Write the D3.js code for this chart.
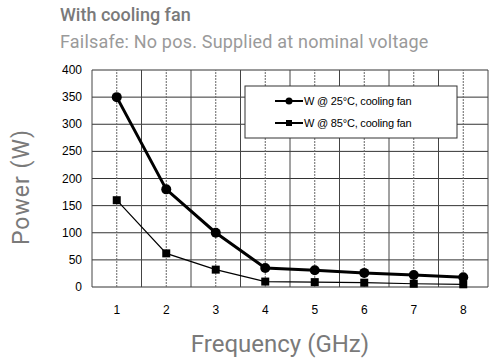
<!DOCTYPE html>
<html>
<head>
<meta charset="utf-8">
<script src="https://cdn.jsdelivr.net/npm/d3@7"></script>
<style>
  body { margin: 0; background: #fff; }
  svg { display: block; }
</style>
</head>
<body>
<div id="chart"></div>
<script>
const freq = [1, 2, 3, 4, 5, 6, 7, 8];
const power25 = [350, 180, 100, 35, 31, 26, 22, 18];
const power85 = [160, 62, 32, 10, 9, 8, 6, 5];
const yTicks = [0, 50, 100, 150, 200, 250, 300, 350, 400];
const legendLabels = ["W @ 25°C, cooling fan", "W @ 85°C, cooling fan"];

const width = 493, height = 358;
const margin = { top: 70, right: 5, bottom: 71, left: 92 };

const svg = d3.select("#chart").append("svg")
  .attr("width", width)
  .attr("height", height);

// titles
svg.append("text")
  .attr("x", 60).attr("y", 21)
  .attr("font-family", "Roboto, 'Open Sans', sans-serif")
  .attr("font-size", 18).attr("font-weight", 500)
  .attr("fill", "#7a7a7a")
  .text("With cooling fan");

svg.append("text")
  .attr("x", 60).attr("y", 48)
  .attr("font-family", "Roboto, 'Open Sans', sans-serif")
  .attr("font-size", 18)
  .attr("letter-spacing", 0.2)
  .attr("fill", "#9a9a9a")
  .text("Failsafe: No pos. Supplied at nominal voltage");

const x = d3.scaleLinear().domain([0.5, 8.5]).range([margin.left, width - margin.right]);
const y = d3.scaleLinear().domain([0, 400]).range([height - margin.bottom, margin.top]);

const plot = svg.append("g");

// horizontal grid
plot.append("g")
  .selectAll("line")
  .data(yTicks)
  .join("line")
  .attr("x1", x(0.5)).attr("x2", x(8.5))
  .attr("y1", d => y(d)).attr("y2", d => y(d))
  .attr("stroke", "#333").attr("stroke-width", 1);

// vertical grid: solid between categories, dotted at categories
plot.append("g")
  .selectAll("line")
  .data(d3.range(0.5, 9, 1))
  .join("line")
  .attr("x1", d => x(d)).attr("x2", d => x(d))
  .attr("y1", y(0)).attr("y2", y(400))
  .attr("stroke", "#444").attr("stroke-width", 1);

plot.append("g")
  .selectAll("line")
  .data(freq)
  .join("line")
  .attr("x1", d => x(d)).attr("x2", d => x(d))
  .attr("y1", y(0)).attr("y2", y(400))
  .attr("stroke", "#666").attr("stroke-width", 1)
  .attr("stroke-dasharray", "2,1");

// axis tick labels
plot.append("g")
  .selectAll("text")
  .data(yTicks)
  .join("text")
  .attr("x", margin.left - 10)
  .attr("y", d => y(d) + 4)
  .attr("text-anchor", "end")
  .attr("font-family", "Arial, 'Liberation Sans', sans-serif")
  .attr("font-size", 12)
  .attr("fill", "#000")
  .text(d => d);

plot.append("g")
  .selectAll("text")
  .data(freq)
  .join("text")
  .attr("x", d => x(d))
  .attr("y", height - margin.bottom + 27)
  .attr("text-anchor", "middle")
  .attr("font-family", "Arial, 'Liberation Sans', sans-serif")
  .attr("font-size", 12)
  .attr("fill", "#000")
  .text(d => d);

// lines
const line = d3.line().x((d, i) => x(freq[i])).y(d => y(d));

plot.append("path")
  .datum(power85)
  .attr("d", line)
  .attr("fill", "none")
  .attr("stroke", "#000")
  .attr("stroke-width", 1.2);

plot.append("path")
  .datum(power25)
  .attr("d", line)
  .attr("fill", "none")
  .attr("stroke", "#000")
  .attr("stroke-width", 3);

plot.append("g")
  .selectAll("circle")
  .data(power25)
  .join("circle")
  .attr("cx", (d, i) => x(freq[i]))
  .attr("cy", d => y(d))
  .attr("r", 5)
  .attr("fill", "#000");

plot.append("g")
  .selectAll("rect")
  .data(power85)
  .join("rect")
  .attr("x", (d, i) => x(freq[i]) - 4)
  .attr("y", d => y(d) - 4)
  .attr("width", 8).attr("height", 8)
  .attr("fill", "#000");

// legend
const legend = svg.append("g").attr("transform", "translate(245,86)");
legend.append("rect")
  .attr("width", 212).attr("height", 52)
  .attr("fill", "#fff").attr("stroke", "#333").attr("stroke-width", 1);

legendLabels.forEach((label, i) => {
  const ly = 15 + i * 22;
  const g = legend.append("g").attr("transform", `translate(0,${ly})`);
  g.append("line")
    .attr("x1", 30).attr("x2", 58)
    .attr("stroke", "#000").attr("stroke-width", 2);
  if (i === 0) {
    g.append("circle").attr("cx", 44).attr("r", 3.5).attr("fill", "#000");
  } else {
    g.append("rect").attr("x", 41).attr("y", -3).attr("width", 6).attr("height", 6).attr("fill", "#000");
  }
  g.append("text")
    .attr("x", 59).attr("y", 4)
    .attr("font-family", "Arial, 'Liberation Sans', sans-serif")
    .attr("font-size", 11)
    .attr("letter-spacing", -0.2)
    .attr("fill", "#000")
    .text(label);
});

// axis titles
svg.append("text")
  .attr("transform", "translate(29,187) rotate(-90)")
  .attr("text-anchor", "middle")
  .attr("font-family", "Roboto, 'Open Sans', sans-serif")
  .attr("font-size", 23)
  .attr("letter-spacing", 1)
  .attr("fill", "#7a7a7a")
  .text("Power (W)");

svg.append("text")
  .attr("x", 280).attr("y", 352)
  .attr("text-anchor", "middle")
  .attr("font-family", "Roboto, 'Open Sans', sans-serif")
  .attr("font-size", 24)
  .attr("fill", "#7a7a7a")
  .text("Frequency (GHz)");
</script>
</body>
</html>
